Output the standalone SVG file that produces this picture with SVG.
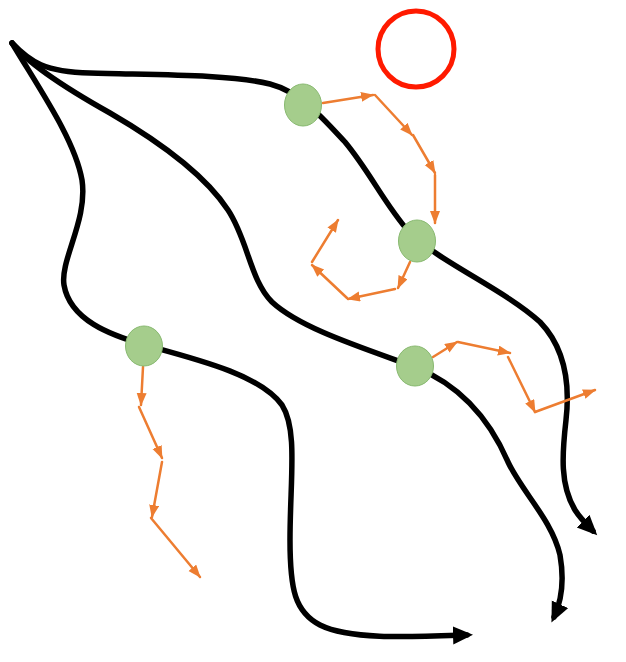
<svg xmlns="http://www.w3.org/2000/svg" width="626" height="662" viewBox="0 0 626 662">
<style>
.path{fill:none;stroke:#000;stroke-width:5.5;stroke-linecap:round;marker-end:url(#bk)}
.step{fill:none;stroke:#ED7D31;stroke-width:2.5;stroke-linecap:round;marker-end:url(#or)}
.node{fill:#A5CD8C;stroke:#88B970;stroke-width:1}
</style>
<defs>
<marker id="bk" markerUnits="userSpaceOnUse" markerWidth="22" markerHeight="20" refX="14" refY="9" orient="auto" viewBox="0 0 22 20">
<path d="M0,0 L20,9 L0,18 z" fill="#000"/>
</marker>
<marker id="or" markerUnits="userSpaceOnUse" markerWidth="14" markerHeight="12" refX="12" refY="5" orient="auto" viewBox="0 0 14 12">
<path d="M0,0 L13,5 L0,10 z" fill="#ED7D31"/>
</marker>
</defs>
<rect width="626" height="662" fill="#fff"/>
<g id="red-circle">
<circle cx="416" cy="49" r="38" fill="none" stroke="#FF1A00" stroke-width="5"/>
</g>
<g id="connectors">
<path class="path" d="M12,43 C30,62 45,72 90,73 C150,75 230,74 270,84 C300,92 320,115 345,142 C370,172 385,205 410,233 C440,262 505,290 540,322 C565,348 570,385 566,420 C562,455 560,485 575,510 C580,518 587,525 593,531"/>
<path class="path" d="M12,43 C25,60 60,85 110,113 C160,142 205,175 228,210 C248,240 250,280 272,302 C300,328 360,347 415,367 C460,385 490,420 508,462 C522,492 552,520 560,555 C564,578 562,600 554,617"/>
<path class="path" d="M12,43 C40,90 75,140 82,180 C88,220 60,260 64,285 C70,320 110,335 145,345 C200,360 260,375 282,405 C298,430 290,480 290,540 C290,590 295,612 320,625 C350,640 410,637 467,635"/>
<path class="step" d="M323,103 L373,95"/>
<path class="step" d="M375,95 L412,135"/>
<path class="step" d="M413,135 L435,173"/>
<path class="step" d="M435,175 L435,223"/>
<path class="step" d="M410,262 L398,288"/>
<path class="step" d="M395,289 L348,299"/>
<path class="step" d="M347,298 L312,265"/>
<path class="step" d="M312,262 L338,220"/>
<path class="step" d="M433,357 L457,342"/>
<path class="step" d="M458,342 L510,353"/>
<path class="step" d="M508,357 L535,412"/>
<path class="step" d="M535,412 L595,390"/>
<path class="step" d="M143,367 L141,405"/>
<path class="step" d="M139,407 L162,458"/>
<path class="step" d="M162,462 L152,517"/>
<path class="step" d="M151,518 L200,577"/>
</g>
<g id="node1"><ellipse class="node" cx="303" cy="105" rx="18.5" ry="21"/></g>
<g id="node2"><ellipse class="node" cx="417" cy="241" rx="18.5" ry="21"/></g>
<g id="node3"><ellipse class="node" cx="415" cy="366" rx="18.5" ry="20"/></g>
<g id="node4"><ellipse class="node" cx="144" cy="346" rx="18.5" ry="20"/></g>
</svg>
